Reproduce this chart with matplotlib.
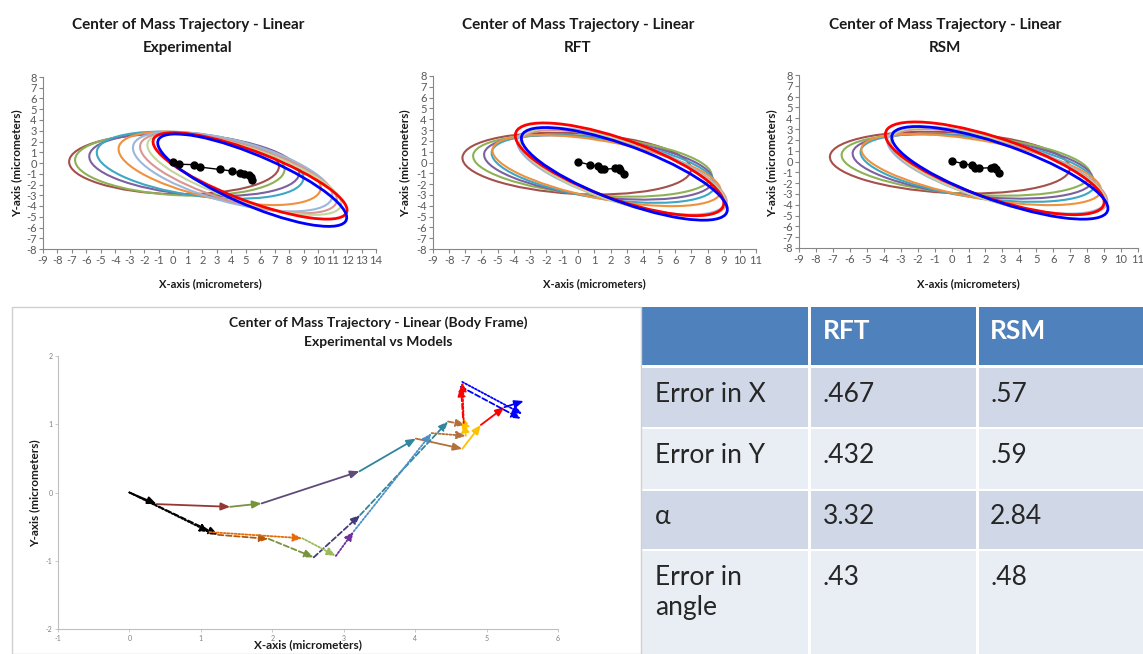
import matplotlib
matplotlib.use("Agg")
import matplotlib.pyplot as plt
from matplotlib.patches import Ellipse, Rectangle

plt.rcParams['font.family'] = ['Lato', 'Open Sans', 'DejaVu Sans']
plt.rcParams['axes.unicode_minus'] = False

W, H = 1143, 654

# colours of the ten trajectory cycles (same order in every panel)
cycle_colors = ['#A5504C', '#8DB255', '#7D60A0', '#3DA8C4', '#F0913D',
                '#9BB7DB', '#D99694', '#C3D69B', '#FF0000', '#0000FF']
cycle_widths = [1.5] * 8 + [2.0, 2.0]

# ellipse fits for each cycle: centre x, centre y, semi-axes a/b, tilt (deg)
exp_cx = [0.05, 0.45, 1.45, 1.85, 3.2, 4.1, 4.5, 4.9, 5.3, 5.45]
exp_cy = [-0.1, -0.15, -0.15, -0.2, -0.5, -0.8, -0.95, -1.05, -1.2, -1.6]
exp_a = [7.25, 7.25, 7.3, 7.25, 7.25, 7.3, 7.3, 7.3, 7.5, 7.5]
exp_b = [2.8, 2.85, 2.8, 2.85, 2.8, 2.8, 2.6, 2.4, 2.2, 2.2]
exp_ang = [-2, -4, -7, -11, -17, -21, -23, -25, -28, -31]

rft_cx = [-0.1, 0.87, 1.25, 1.55, 1.75, 2.65, 2.8, 2.75, 2.55, 2.85]
rft_cy = [-0.1, -0.3, -0.45, -0.6, -0.75, -0.8, -0.95, -0.9, -0.63, -1.05]
rft_a = [7.1, 7.45, 7.2, 7.1, 7.35, 7.1, 7.05, 7.05, 7.3, 7.3]
rft_b = [2.8, 2.7, 2.7, 2.7, 2.6, 2.7, 2.6, 2.65, 2.6, 2.4]
rft_ang = [-5, -8, -11, -14, -17, -27, -27, -28, -30, -31]

rsm_cx = [-0.1, 0.85, 1.25, 1.55, 1.75, 2.65, 2.8, 2.75, 2.55, 2.85]
rsm_cy = [-0.1, -0.3, -0.45, -0.6, -0.75, -0.8, -0.95, -0.9, -0.63, -1.05]
rsm_a = [7.1, 7.4, 7.2, 7.1, 7.35, 7.1, 7.05, 7.05, 7.3, 7.3]
rsm_b = [2.8, 2.7, 2.7, 2.7, 2.6, 2.7, 2.6, 2.65, 2.6, 2.4]
rsm_ang = [-5, -8, -11, -14, -17, -27, -27, -28, -30, -31]

# centre of mass positions
exp_com_x = [0.0, 0.4, 1.45, 1.85, 3.2, 4.03, 4.6, 4.9, 5.23, 5.37, 5.45]
exp_com_y = [0.05, -0.12, -0.15, -0.38, -0.6, -0.74, -0.93, -1.0, -1.08, -1.3, -1.57]
rft_com_x = [0.0, 0.7, 1.2, 1.4, 1.6, 2.3, 2.5, 2.6, 2.8]
rft_com_y = [0.05, -0.2, -0.35, -0.58, -0.62, -0.55, -0.55, -0.68, -1.05]
rsm_com_x = [0.0, 0.7, 1.2, 1.4, 1.6, 2.3, 2.5, 2.6, 2.8]
rsm_com_y = [0.05, -0.2, -0.35, -0.6, -0.62, -0.58, -0.55, -0.7, -1.05]

# body frame trajectories (one arrow per step)
exp_x = [0, 0.38, 1.41, 1.85, 3.22, 4.01, 4.66, 4.92, 5.25, 5.52]
exp_y = [0, -0.17, -0.21, -0.16, 0.31, 0.79, 0.64, 0.99, 1.25, 1.34]
rft_x = [0, 1.24, 1.95, 2.58, 3.23, 4.46, 4.70, 4.67, 4.64, 5.48]
rft_y = [0, -0.62, -0.68, -0.95, -0.33, 1.04, 0.99, 1.10, 1.55, 1.08]
rsm_x = [0, 1.12, 2.42, 2.89, 3.14, 4.23, 4.71, 4.68, 4.66, 5.50]
rsm_y = [0, -0.58, -0.67, -0.93, -0.57, 0.87, 0.83, 1.02, 1.62, 1.15]

exp_colors = ['black', '#953735', '#77933C', '#604A7B', '#31859C',
              '#B3713A', '#FFC000', '#FF0000', '#0000FF']
rft_colors = ['black', '#B65708', '#77933C', '#403C7A', '#31859C',
              '#B3713A', '#FFC000', '#FF0000', '#0000FF']
rsm_colors = ['black', '#E46C0A', '#9BBB59', '#7030A0', '#4B8FC6',
              '#B3713A', '#FFC000', '#FF0000', '#0000FF']

# error table
row_labels = ['Error in X', 'Error in Y', '\u03b1', 'Error in\nangle']
col_labels = ['RFT', 'RSM']
rft_err = ['.467', '.432', '3.32', '.43']
rsm_err = ['.57', '.59', '2.84', '.48']


def px_axes(fig, left, top, right, bottom):
    return fig.add_axes([left / W, 1 - bottom / H, (right - left) / W, (bottom - top) / H])


def ptext(fig, x, y, s, **kw):
    return fig.text(x / W, 1 - y / H, s, **kw)


fig = plt.figure(figsize=(W / 100, H / 100), dpi=100)

# ---- top row: ellipse panels ----
panels = [
    (43, 77, 376, 249, 14, 'Experimental', exp_cx, exp_cy, exp_a, exp_b, exp_ang,
     exp_com_x, exp_com_y, 17, 188, 210),
    (433, 76, 756, 249, 11, 'RFT', rft_cx, rft_cy, rft_a, rft_b, rft_ang,
     rft_com_x, rft_com_y, 405, 578, 594),
    (799, 75, 1138, 248, 11, 'RSM', rsm_cx, rsm_cy, rsm_a, rsm_b, rsm_ang,
     rsm_com_x, rsm_com_y, 772, 945, 968),
]
for (l, t, r, b, xmax, name, cx, cy, aa, bb, ang, comx, comy,
     ylab_x, title_x, xlab_x) in panels:
    ax = px_axes(fig, l, t, r, b)
    for i in range(len(cx)):
        ax.add_patch(Ellipse((cx[i], cy[i]), 2 * aa[i], 2 * bb[i], angle=ang[i],
                             fill=False, edgecolor=cycle_colors[i],
                             lw=cycle_widths[i]))
    ax.plot(comx, comy, '-o', color='black', lw=1, ms=5, zorder=5)
    ax.set_xlim(-9, xmax)
    ax.set_ylim(-8, 8)
    ax.set_xticks(range(-9, xmax + 1))
    ax.set_yticks(range(-8, 9))
    for s in ['top', 'right']:
        ax.spines[s].set_visible(False)
    for s in ['left', 'bottom']:
        ax.spines[s].set_color('#868686')
        ax.spines[s].set_linewidth(0.8)
    ax.tick_params(labelsize=8, colors='#868686', labelcolor='#595959',
                   length=3, width=0.8, pad=1.5)
    ptext(fig, title_x, 25, 'Center of Mass Trajectory - Linear', ha='center',
          va='center', fontsize=11, fontweight='bold', color='#1a1a1a')
    ptext(fig, title_x, 48, name, ha='center', va='center', fontsize=11,
          fontweight='bold', color='#1a1a1a')
    ptext(fig, ylab_x, 163, 'Y-axis (micrometers)', ha='center', va='center',
          rotation=90, fontsize=8.5, fontweight='bold', color='#1a1a1a')
    ptext(fig, xlab_x, 284, 'X-axis (micrometers)', ha='center', va='center',
          fontsize=8, fontweight='bold', color='#1a1a1a')

# ---- bottom left: body frame arrows ----
fig.patches.append(Rectangle((12 / W, 0), (641 - 12) / W, 1 - 307 / H,
                             transform=fig.transFigure, fill=False,
                             edgecolor='#D0D0D0', lw=1))
ax = px_axes(fig, 58, 356, 558, 629)
for xs, ys, cols, ls in [(exp_x, exp_y, exp_colors, '-'),
                         (rft_x, rft_y, rft_colors, (0, (3, 1.5))),
                         (rsm_x, rsm_y, rsm_colors, (0, (1, 1)))]:
    for i in range(len(xs) - 1):
        ax.annotate('', xy=(xs[i + 1], ys[i + 1]), xytext=(xs[i], ys[i]),
                    arrowprops=dict(arrowstyle='-|>,head_length=0.6,head_width=0.25',
                                    color=cols[i], lw=1.3, linestyle=ls,
                                    shrinkA=0, shrinkB=0, mutation_scale=9))
ax.set_xlim(-1, 6)
ax.set_ylim(-2, 2)
ax.set_xticks(range(-1, 7))
ax.set_yticks(range(-2, 3))
for s in ['top', 'right']:
    ax.spines[s].set_visible(False)
for s in ['left', 'bottom']:
    ax.spines[s].set_color('#BFBFBF')
    ax.spines[s].set_linewidth(0.8)
ax.tick_params(labelsize=5, colors='#BFBFBF', labelcolor='#7F7F7F',
               length=2, width=0.6, pad=2)
ptext(fig, 378, 323, 'Center of Mass Trajectory - Linear (Body Frame)',
      ha='center', va='center', fontsize=10, fontweight='bold', color='#1a1a1a')
ptext(fig, 378, 342, 'Experimental vs Models', ha='center', va='center',
      fontsize=10, fontweight='bold', color='#1a1a1a')
ptext(fig, 35, 493, 'Y-axis (micrometers)', ha='center', va='center',
      rotation=90, fontsize=8.5, fontweight='bold', color='#1a1a1a')
ptext(fig, 308, 645, 'X-axis (micrometers)', ha='center', va='center',
      fontsize=8.5, fontweight='bold', color='#1a1a1a')

# ---- bottom right: error table ----
tab = px_axes(fig, 640, 300, 1143, 654)
tab.set_xlim(640, 1143)
tab.set_ylim(654, 300)
tab.axis('off')
col_edges = [642, 809, 977, 1143]
row_edges = [(307, 365), (368, 427), (429, 489), (491, 549), (551, 660)]
row_fill = ['#4F81BD', '#D0D8E8', '#E9EDF4', '#D0D8E8', '#E9EDF4']
for r, (y0, y1) in enumerate(row_edges):
    for c in range(3):
        x0 = col_edges[c] + (0 if c == 0 else 1.5)
        x1 = col_edges[c + 1] - (1.5 if c < 2 else 0)
        tab.add_patch(Rectangle((x0, y0), x1 - x0, y1 - y0, color=row_fill[r], lw=0))
text_x = [655, 823, 990]
for c, lab in enumerate(col_labels):
    tab.text(text_x[c + 1], 331, lab, ha='left', va='center', fontsize=19,
             fontweight='bold', color='white')
row_top = [382, 443, 504, 565]
for r in range(4):
    tab.text(text_x[0], row_top[r], row_labels[r], ha='left', va='top',
             fontsize=19, color='#262626', linespacing=1.25)
    tab.text(text_x[1], row_top[r], rft_err[r], ha='left', va='top',
             fontsize=19, color='#262626')
    tab.text(text_x[2], row_top[r], rsm_err[r], ha='left', va='top',
             fontsize=19, color='#262626')

fig.savefig('out.png', dpi=100)
